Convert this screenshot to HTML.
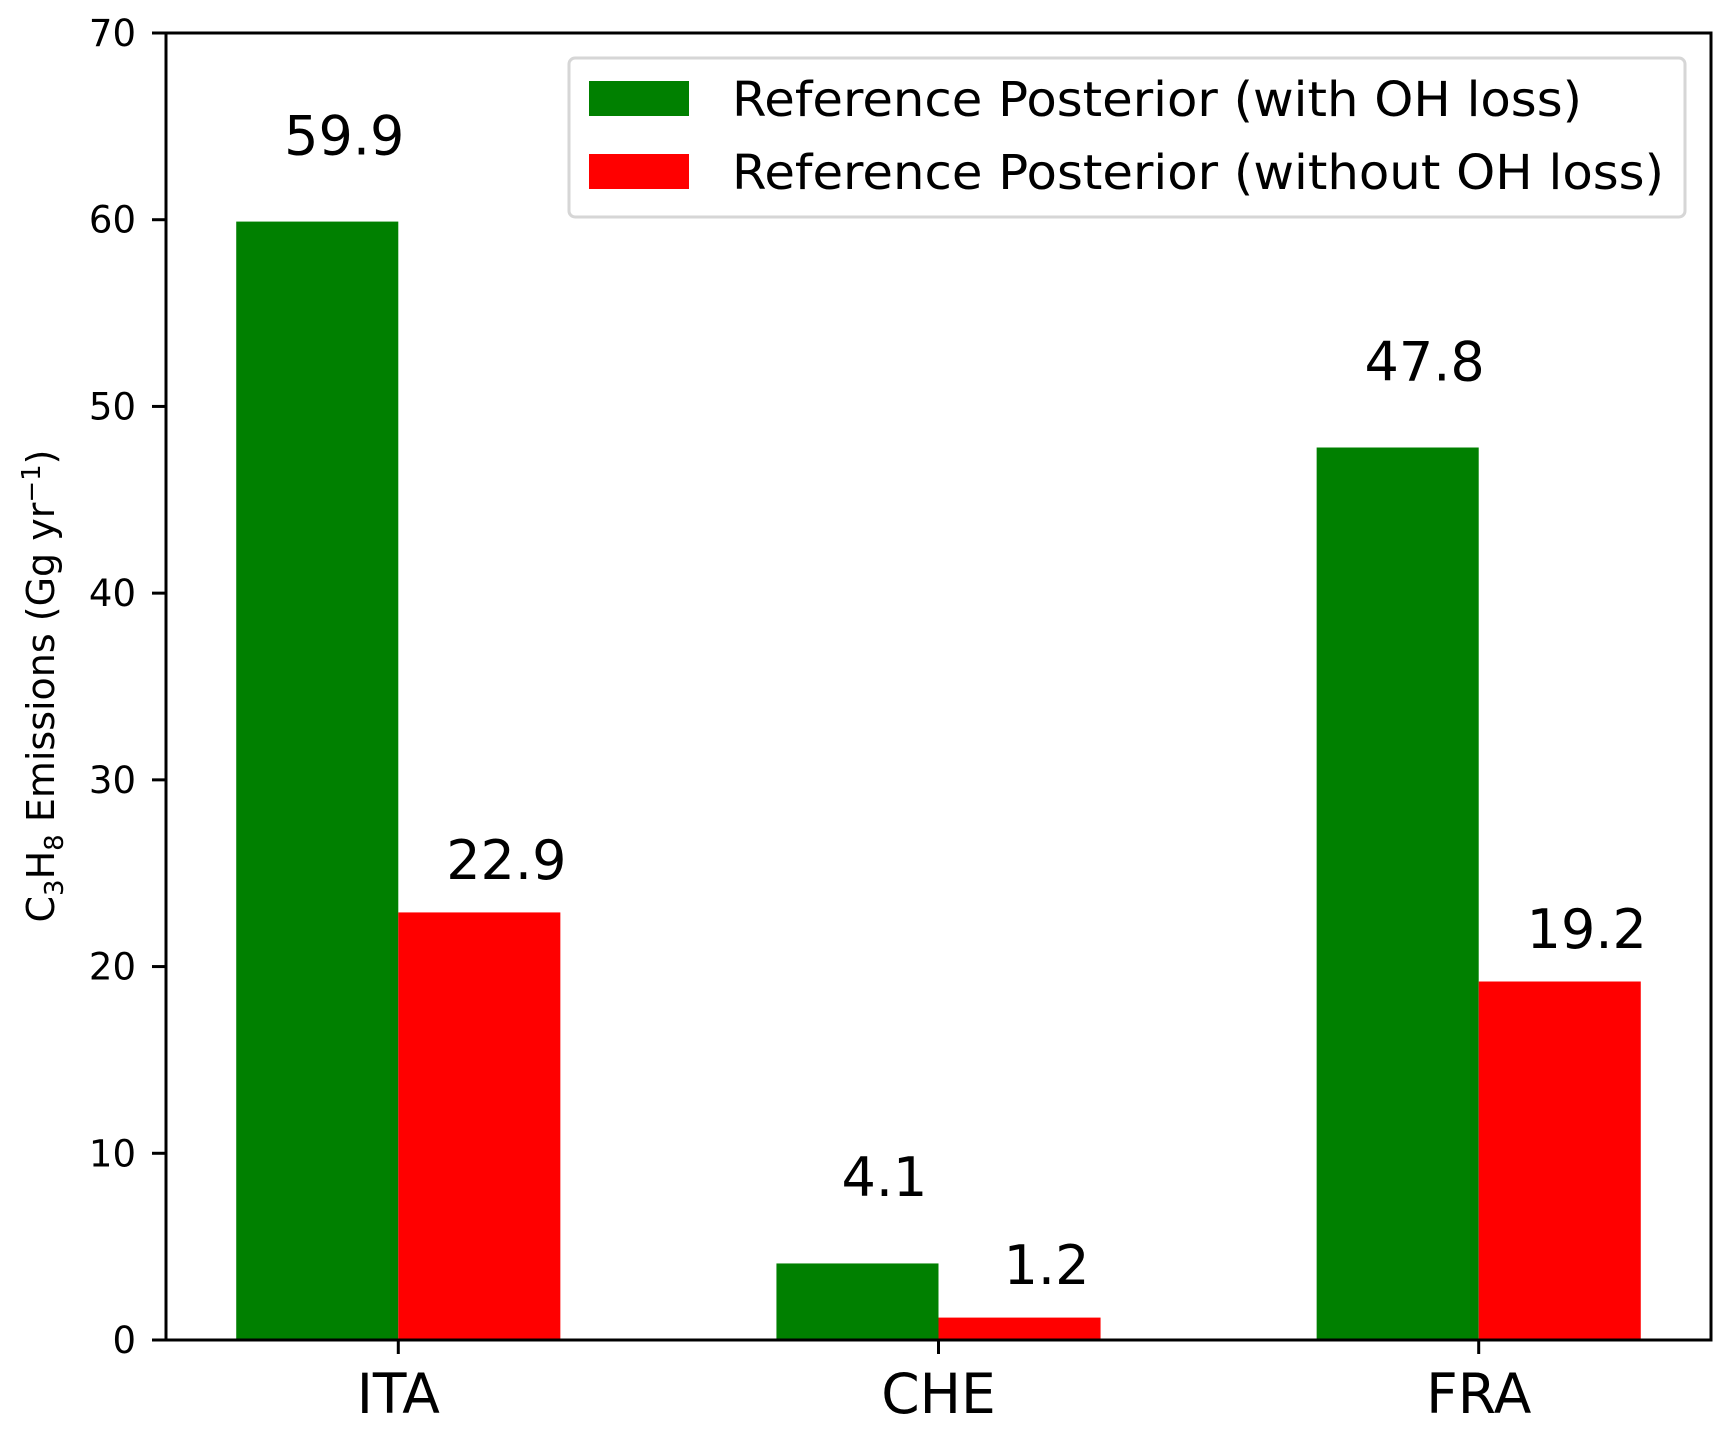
<!DOCTYPE html>
<html><head><meta charset="utf-8"><style>
html,body{margin:0;padding:0;background:#fff;}
svg{display:block;font-family:"DejaVu Sans","Liberation Sans",sans-serif;}
</style></head><body>
<svg id="chart" width="1731" height="1432" viewBox="0 0 1731 1432" xmlns="http://www.w3.org/2000/svg">
<rect width="1731" height="1432" fill="#fff"/>
<g id="bars"></g>
<g id="labels"></g>
<g id="axes"></g>
<text transform="translate(54,686) rotate(-90)" text-anchor="middle" font-size="38" fill="#000">C<tspan font-size="26" dy="9">3</tspan><tspan dy="-9">H</tspan><tspan font-size="26" dy="9">8</tspan><tspan dy="-9"> Emissions (Gg yr</tspan><tspan font-size="26" dy="-14">−1</tspan><tspan dy="14">)</tspan></text>
<g>
<rect x="569" y="58" width="1116" height="159" rx="6" fill="#fff" stroke="#d6d6d6" stroke-width="3"/>
<rect x="589" y="81" width="100" height="35" fill="#008000"/>
<rect x="589" y="154" width="100" height="35" fill="#ff0000"/>
<text x="732" y="116" font-size="48" textLength="850" lengthAdjust="spacingAndGlyphs">Reference Posterior (with OH loss)</text>
<text x="732" y="189" font-size="48" textLength="932" lengthAdjust="spacingAndGlyphs">Reference Posterior (without OH loss)</text>
</g>
</svg>
<script>
const categories = ["ITA", "CHE", "FRA"];
const withOH = [59.9, 4.1, 47.8];
const withoutOH = [22.9, 1.2, 19.2];
const yTicks = [0, 10, 20, 30, 40, 50, 60, 70];

const NS = "http://www.w3.org/2000/svg";
const L = 166, R = 1711, T = 33, B = 1340;
const xMin = -0.43, xMax = 2.43, yMin = 0, yMax = 70;
const barW = 0.3;
const xs = v => L + (v - xMin) / (xMax - xMin) * (R - L);
const ys = v => B - (v - yMin) / (yMax - yMin) * (B - T);
function mk(tag, attrs, parent, txt) {
  const e = document.createElementNS(NS, tag);
  for (const k in attrs) e.setAttribute(k, attrs[k]);
  if (txt !== undefined) e.textContent = txt;
  parent.appendChild(e);
  return e;
}
const gb = document.getElementById('bars');
const gl = document.getElementById('labels');
const ga = document.getElementById('axes');
categories.forEach((c, i) => {
  const g = mk('rect', {x: xs(i - barW), y: ys(withOH[i]), width: xs(i) - xs(i - barW), height: ys(0) - ys(withOH[i]), fill: '#008000'}, gb);
  
  
  const r = mk('rect', {x: xs(i), y: ys(withoutOH[i]), width: xs(i + barW) - xs(i), height: ys(0) - ys(withoutOH[i]), fill: '#ff0000'}, gb);
  
  
  const t1 = mk('text', {x: xs(i - barW / 2) + 27, y: ys(withOH[i] + 3.6), 'text-anchor': 'middle', 'font-size': 54}, gl, withOH[i].toFixed(1));
  
  
  const t2 = mk('text', {x: xs(i + barW / 2) + 27, y: ys(withoutOH[i] + 1.8), 'text-anchor': 'middle', 'font-size': 54}, gl, withoutOH[i].toFixed(1));
  
  
  const tk = mk('line', {x1: xs(i), x2: xs(i), y1: B, y2: B + 14, stroke: '#000', 'stroke-width': 3}, ga);
  
  
  const tl = mk('text', {x: xs(i), y: B + 73, 'text-anchor': 'middle', 'font-size': 55}, ga, c);
  
  
});
yTicks.forEach(v => {
  const tk = mk('line', {x1: L - 14, x2: L, y1: ys(v), y2: ys(v), stroke: '#000', 'stroke-width': 3}, ga);
  
  
  const tl = mk('text', {x: L - 30, y: ys(v) + 13, 'text-anchor': 'end', 'font-size': 37}, ga, String(v));
  
  
});
const frame = mk('rect', {x: L, y: T, width: R - L, height: B - T, fill: 'none', stroke: '#000', 'stroke-width': 3}, ga);


</script>
</body></html>
